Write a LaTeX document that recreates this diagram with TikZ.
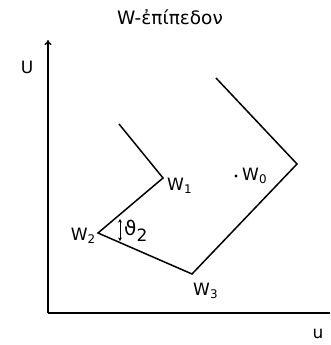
\documentclass[tikz,border=0pt]{standalone}
\usepackage{fontspec}
\setmainfont{DejaVu Sans}
\usetikzlibrary{arrows.meta}
\begin{document}
\begin{tikzpicture}[x=1pt,y=-1pt,
  line/.style={line width=1.5pt, line join=miter},
  axis/.style={line width=1.3pt},
  lbl/.style={font=\fontsize{17}{19}\selectfont, inner sep=0pt},
  ttl/.style={font=\fontsize{18.5}{21}\selectfont, inner sep=0pt}]
\useasboundingbox (0,0) rectangle (330,345);
% axes
\coordinate (O) at (48,313);
\coordinate (Utop) at (48,40);
\coordinate (Uend) at (330,313);
\draw[axis,-{To[length=5pt,width=7pt]}] (O) -- (Utop);
\draw[axis] (O) -- (Uend);
\node[lbl] (Ul) at (27,67) {U};
\node[lbl] (ul) at (318,334) {u};
\node[ttl] (t) at (170,17) {W-ἐπίπεδον};
% polyline
\coordinate (A) at (119,124);
\coordinate (w1) at (163,178);
\coordinate (w2) at (98,233);
\coordinate (w3) at (192,274);
\coordinate (B) at (297,164);
\coordinate (C) at (216,78);
\draw[line] (A) -- (w1) -- (w2) -- (w3) -- (B) -- (C);
% labels
\node[lbl, anchor=west] (W1) at (167,186) {W\textsubscript{1}};
\node[lbl, anchor=east] (W2) at (96,236) {W\textsubscript{2}};
\node[lbl, anchor=west] (W3) at (193,291) {W\textsubscript{3}};
\node[circle, fill, inner sep=1.1pt] (w0) at (236,176) {};
\node[lbl, anchor=west] (W0) at (242,176) {W\textsubscript{0}};
% angle
\coordinate (a1) at (120,219);
\coordinate (a2) at (120,241);
\draw[line width=1pt,{Stealth[length=3.5pt,width=4pt]}-{Stealth[length=3.5pt,width=4pt]}] (a1) -- (a2);
\node[lbl, anchor=west] (th) at (124,231) {\fontsize{20}{22}\selectfont ϑ\textsubscript{\fontsize{17}{19}\selectfont 2}};
\end{tikzpicture}
\end{document}
